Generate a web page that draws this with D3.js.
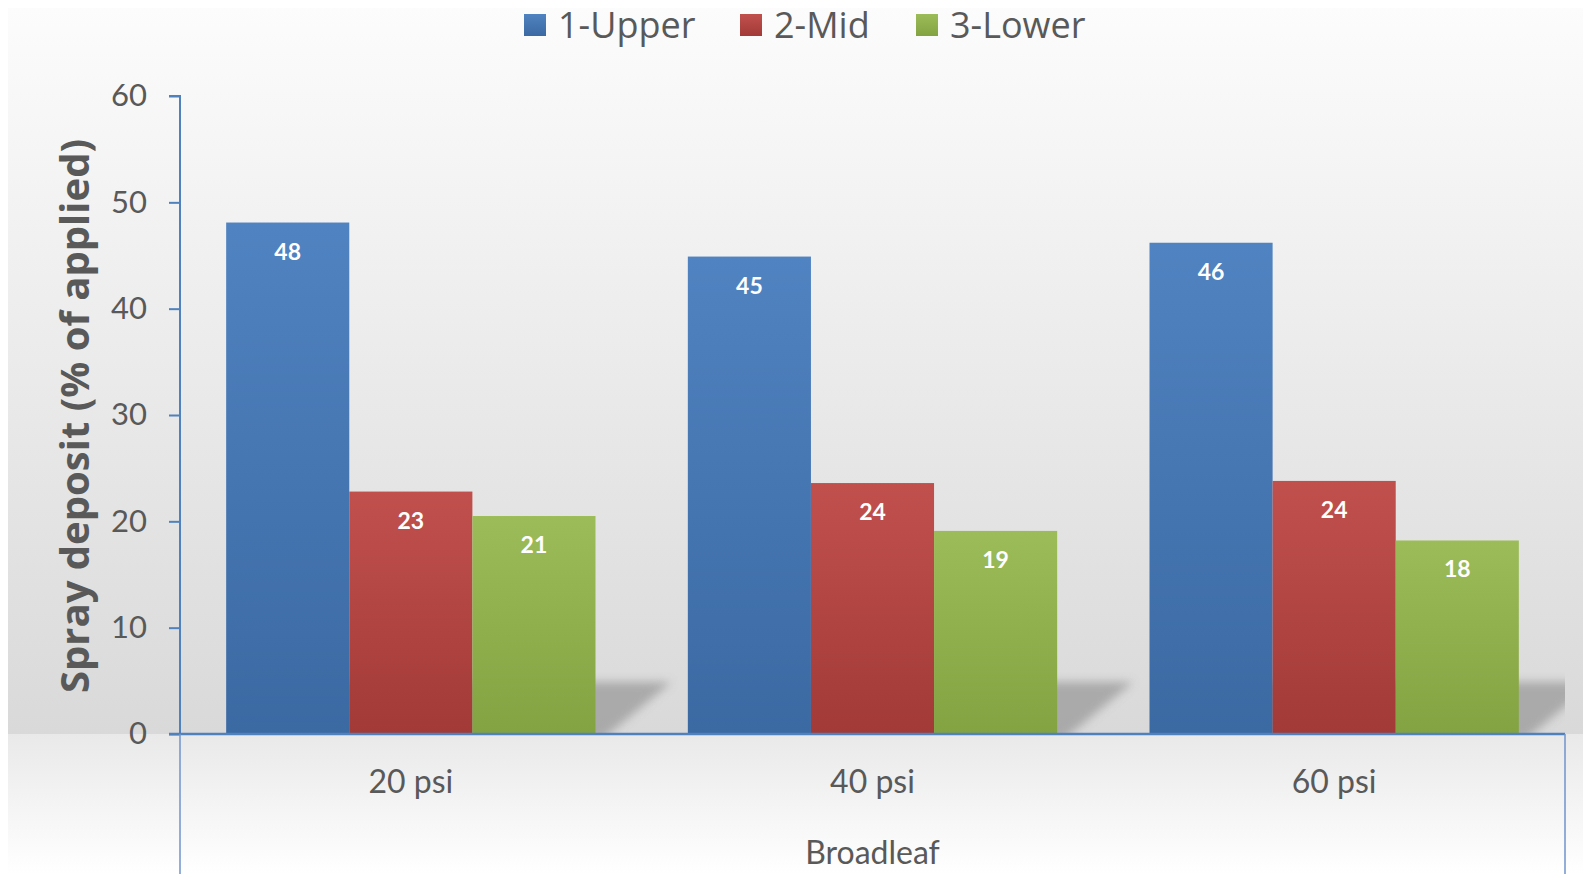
<!DOCTYPE html>
<html>
<head>
<meta charset="utf-8">
<script src="https://cdn.jsdelivr.net/npm/d3@7"></script>
<style>
  body { margin: 0; background: #fff; }
  text { font-family: Lato, "Open Sans", sans-serif; }
</style>
</head>
<body>
<div id="chart"></div>
<script>
// chart data
const categories = ["20 psi", "40 psi", "60 psi"];
const seriesNames = ["1-Upper", "2-Mid", "3-Lower"];
const upperValues = [48.1, 44.9, 46.2];
const midValues = [22.8, 23.6, 23.8];
const lowerValues = [20.5, 19.1, 18.2];
const yTicks = [0, 10, 20, 30, 40, 50, 60];
const groupLabel = "Broadleaf";
const yTitle = "Spray deposit (% of applied)";

const seriesValues = [upperValues, midValues, lowerValues];
const colors = [
    {top: "#5083c1", bottom: "#3b69a2"},
    {top: "#c1504d", bottom: "#a23a37"},
    {top: "#9cbc59", bottom: "#83a342"}
];

const width = 1583, height = 874;
const plot = {left: 180, right: 1565, top: 96, bottom: 734};

const svg = d3.select("#chart").append("svg")
    .attr("width", width)
    .attr("height", height);

const defs = svg.append("defs");

// background gradients
const bgTop = defs.append("linearGradient").attr("id", "bgTop")
    .attr("x1", 0).attr("y1", 0).attr("x2", 0).attr("y2", 1);
bgTop.append("stop").attr("offset", "0%").attr("stop-color", "#fcfcfc");
bgTop.append("stop").attr("offset", "100%").attr("stop-color", "#d9d9d9");
const bgBottom = defs.append("linearGradient").attr("id", "bgBottom")
    .attr("x1", 0).attr("y1", 0).attr("x2", 0).attr("y2", 1);
bgBottom.append("stop").attr("offset", "0%").attr("stop-color", "#e9e9e9");
bgBottom.append("stop").attr("offset", "100%").attr("stop-color", "#ffffff");

colors.forEach((c, i) => {
    const g = defs.append("linearGradient").attr("id", "bar" + i)
        .attr("x1", 0).attr("y1", 0).attr("x2", 0).attr("y2", 1);
    g.append("stop").attr("offset", "0%").attr("stop-color", c.top);
    g.append("stop").attr("offset", "100%").attr("stop-color", c.bottom);
});

defs.append("filter").attr("id", "blur")
    .attr("x", "-20%").attr("y", "-20%").attr("width", "140%").attr("height", "140%")
    .append("feGaussianBlur").attr("stdDeviation", 5);
defs.append("clipPath").attr("id", "plotClip")
    .append("rect")
    .attr("x", plot.left).attr("y", plot.top)
    .attr("width", plot.right - plot.left).attr("height", plot.bottom - plot.top);

svg.append("rect")
    .attr("x", 8).attr("y", 8)
    .attr("width", width - 8).attr("height", plot.bottom - 8)
    .attr("fill", "url(#bgTop)");
svg.append("rect")
    .attr("x", 8).attr("y", plot.bottom)
    .attr("width", width - 8).attr("height", height - plot.bottom)
    .attr("fill", "url(#bgBottom)");

// scales
const x0 = d3.scaleBand()
    .domain(categories)
    .range([plot.left, plot.right])
    .paddingInner(0.2)
    .paddingOuter(0.1);
const x1 = d3.scaleBand()
    .domain(seriesNames)
    .range([0, x0.bandwidth()]);
const y = d3.scaleLinear().domain([0, 60]).range([plot.bottom, plot.top]);

// shadows behind each group
svg.append("g").attr("clip-path", "url(#plotClip)")
    .selectAll("path")
    .data(categories)
    .join("path")
    .attr("d", c => {
        const left = x0(c) + 20, right = x0(c) + x0.bandwidth();
        const yb = y(0), yt = y(0) - 52;
        return `M${left},${yb + 6} L${right + 6},${yb + 6} L${right + 76},${yt} L${left + 70},${yt} Z`;
    })
    .attr("fill", "#9a9a9a")
    .attr("opacity", 0.75)
    .attr("filter", "url(#blur)");

// y axis
const yAxis = svg.append("g")
    .attr("transform", `translate(${plot.left},0)`)
    .call(d3.axisLeft(y).tickValues(yTicks).tickSize(11).tickPadding(22));
yAxis.select(".domain").attr("stroke", "#4f81bd").attr("stroke-width", 2)
    .attr("d", `M-11,${plot.top}H0V${plot.bottom}`);
yAxis.selectAll(".tick line").attr("stroke", "#4f81bd").attr("stroke-width", 2);
yAxis.selectAll(".tick text")
    .attr("fill", "#595959")
    .style("font-size", "31px")
    .style("font-family", "Lato, sans-serif");

// bars
const groups = svg.append("g").selectAll("g")
    .data(categories)
    .join("g")
    .attr("transform", c => `translate(${x0(c)},0)`);

groups.selectAll("rect")
    .data((c, ci) => seriesNames.map((s, si) => ({s, si, v: seriesValues[si][ci]})))
    .join("rect")
    .attr("x", d => x1(d.s))
    .attr("y", d => y(d.v))
    .attr("width", x1.bandwidth())
    .attr("height", d => y(0) - y(d.v))
    .attr("fill", d => `url(#bar${d.si})`);

groups.selectAll("text")
    .data((c, ci) => seriesNames.map((s, si) => ({s, si, v: seriesValues[si][ci]})))
    .join("text")
    .attr("x", d => x1(d.s) + x1.bandwidth() / 2)
    .attr("y", d => y(d.v) + 37)
    .attr("text-anchor", "middle")
    .attr("fill", "#fff")
    .attr("font-weight", "bold")
    .style("font-size", "23px")
    .text(d => Math.round(d.v));

// category axis
const xAxis = svg.append("g");
xAxis.append("line")
    .attr("x1", plot.left - 11).attr("x2", plot.right)
    .attr("y1", y(0)).attr("y2", y(0))
    .attr("stroke", "#4f81bd").attr("stroke-width", 2.5);
[plot.left, plot.right].forEach(xp => {
    xAxis.append("line")
        .attr("x1", xp).attr("x2", xp)
        .attr("y1", y(0)).attr("y2", height)
        .attr("stroke", "#6f95cc").attr("stroke-width", 1.5);
});
xAxis.selectAll("text.cat")
    .data(categories)
    .join("text")
    .attr("class", "cat")
    .attr("x", c => x0(c) + x0.bandwidth() / 2)
    .attr("y", 793)
    .attr("text-anchor", "middle")
    .attr("fill", "#595959")
    .style("font-size", "32px")
    .text(c => c);
xAxis.append("text")
    .attr("x", (plot.left + plot.right) / 2)
    .attr("y", 864)
    .attr("text-anchor", "middle")
    .attr("fill", "#595959")
    .style("font-size", "32px")
    .text(groupLabel);

// y title
svg.append("text")
    .attr("transform", `translate(89,${(plot.top + plot.bottom) / 2 + 1}) rotate(-90)`)
    .attr("text-anchor", "middle")
    .attr("fill", "#595959")
    .attr("font-weight", "bold")
    .style("font-family", "'Open Sans', sans-serif")
    .style("font-size", "40px")
    .text(yTitle);

// legend
const legendX = [524, 740, 916];
const legend = svg.append("g").selectAll("g")
    .data(seriesNames)
    .join("g")
    .attr("transform", (s, i) => `translate(${legendX[i]},14)`);
legend.append("rect")
    .attr("width", 22).attr("height", 22)
    .attr("fill", (s, i) => `url(#bar${i})`);
legend.append("text")
    .attr("x", 34).attr("y", 24)
    .attr("fill", "#595959")
    .style("font-family", "'Open Sans', sans-serif")
    .style("font-size", "36px")
    .text(s => s);
</script>
</body>
</html>
